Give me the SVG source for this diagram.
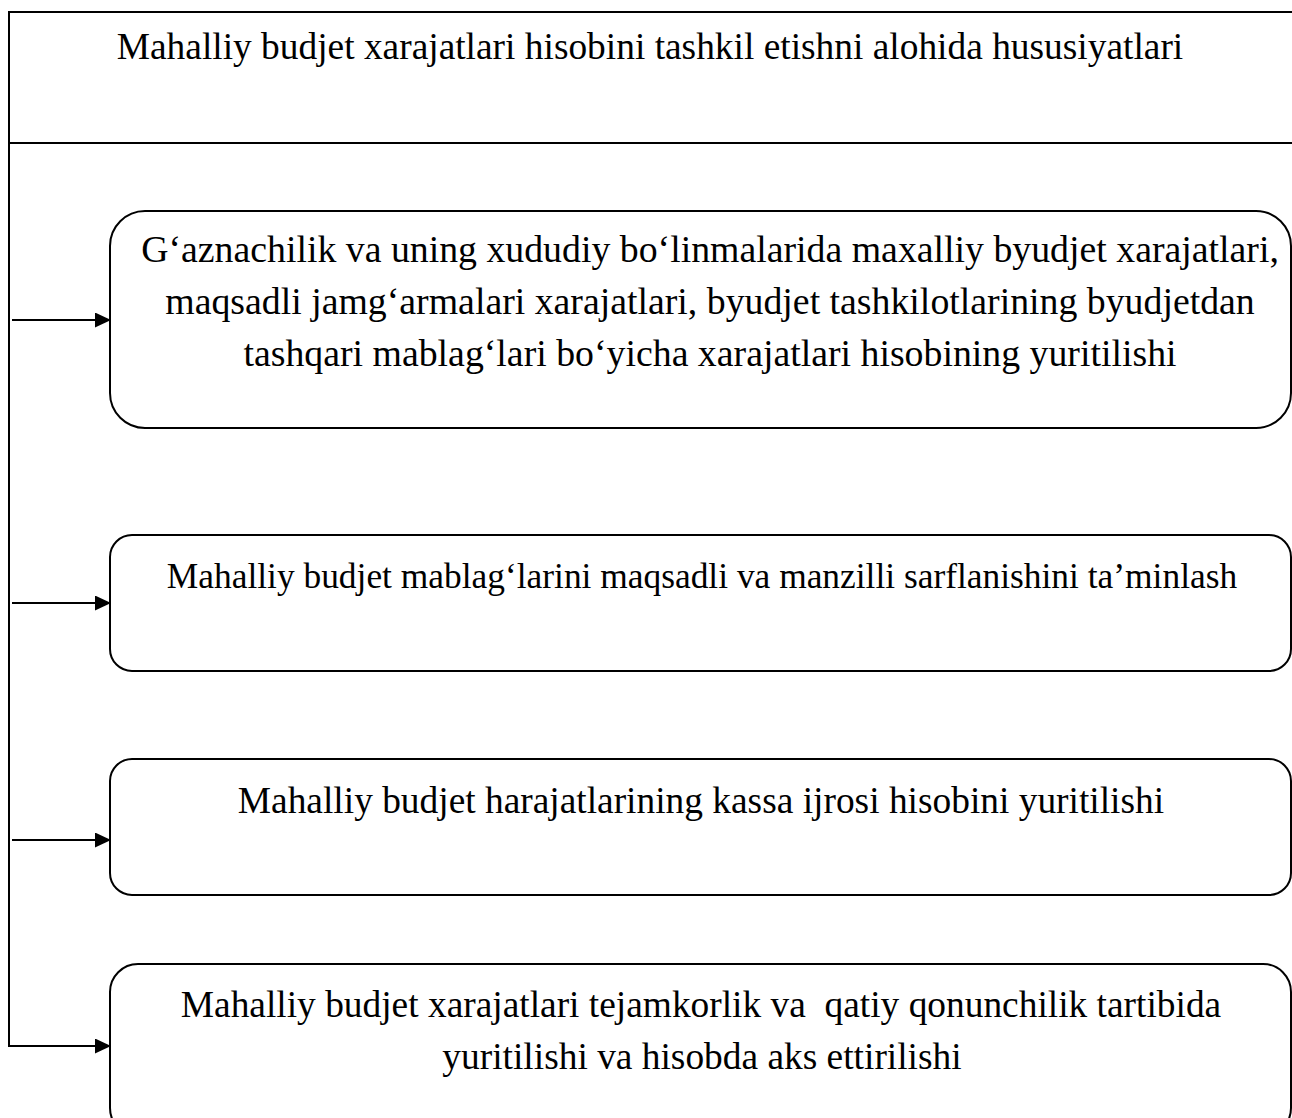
<svg xmlns="http://www.w3.org/2000/svg" width="1292" height="1118" viewBox="0 0 1292 1118">
<style>
.box{fill:#fff;stroke:#000;stroke-width:2}
.ln{fill:none;stroke:#000;stroke-width:2}
text{font-family:"Liberation Serif","Times New Roman",serif;font-size:37.4px;fill:#000;text-anchor:middle}
</style>
<defs>
<marker id="ah" viewBox="0 0 16 15" refX="16" refY="7.5" markerWidth="16" markerHeight="15" markerUnits="userSpaceOnUse" orient="auto">
<path d="M0,0 L16,7.5 L0,15 Z" fill="#000"/>
</marker>
</defs>
<rect width="1292" height="1118" fill="#fff"/>
<g id="title">
<rect class="box" x="9" y="12" width="1300" height="131"/>
<text x="650" y="59">Mahalliy budjet xarajatlari hisobini tashkil etishni alohida hususiyatlari</text>
</g>
<g id="connectors">
<path class="ln" d="M9,143 V1046 H111" marker-end="url(#ah)"/>
<path class="ln" d="M12,320 H111" marker-end="url(#ah)"/>
<path class="ln" d="M12,603 H111" marker-end="url(#ah)"/>
<path class="ln" d="M12,840 H111" marker-end="url(#ah)"/>
</g>
<g id="node1">
<rect class="box" x="110" y="211" width="1181" height="217" rx="35" ry="35"/>
<text x="710" y="262" style="font-size:37.8px">G‘aznachilik va uning xududiy bo‘linmalarida maxalliy byudjet xarajatlari,</text>
<text x="710" y="314" style="font-size:37.8px">maqsadli jamg‘armalari xarajatlari, byudjet tashkilotlarining byudjetdan</text>
<text x="710" y="366" style="font-size:37.8px">tashqari mablag‘lari bo‘yicha xarajatlari hisobining yuritilishi</text>
</g>
<g id="node2">
<rect class="box" x="110" y="535" width="1181" height="136" rx="22" ry="22"/>
<text x="702" y="588" style="font-size:35.4px">Mahalliy budjet mablag‘larini maqsadli va manzilli sarflanishini ta’minlash</text>
</g>
<g id="node3">
<rect class="box" x="110" y="759" width="1181" height="136" rx="22" ry="22"/>
<text x="701" y="813">Mahalliy budjet harajatlarining kassa ijrosi hisobini yuritilishi</text>
</g>
<g id="node4">
<rect class="box" x="110" y="964" width="1181" height="172" rx="28" ry="28"/>
<text x="701" y="1017" style="white-space:pre">Mahalliy budjet xarajatlari tejamkorlik va  qatiy qonunchilik tartibida</text>
<text x="702" y="1069">yuritilishi va hisobda aks ettirilishi</text>
</g>
</svg>
